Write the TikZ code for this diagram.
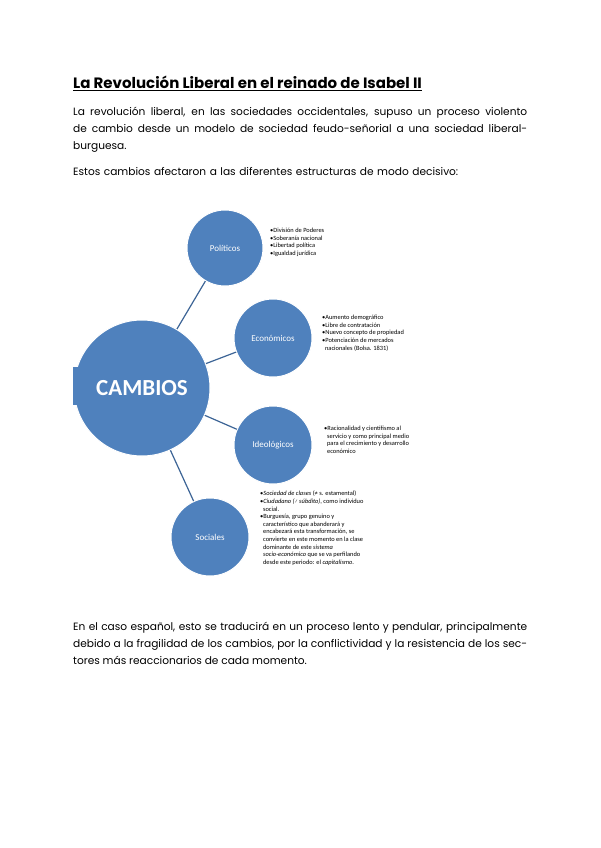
\documentclass[tikz,border=0pt]{standalone}
\usepackage{fontspec}
\setmainfont{Poppins}
\newfontfamily\carfont{Carlito}
\begin{document}
\begin{tikzpicture}[x=1pt,y=-1pt,
  bub/.style={circle,fill=blue1,draw=white,line width=1pt,inner sep=0pt,text=white,font=\carfont\fontsize{9}{10}\selectfont},
  lnk/.style={draw=linkc,line width=1.2pt},
  lst/.style={anchor=north west,align=left,font=\carfont\fontsize{6.4}{7.6}\selectfont,inner sep=0pt},
  body/.style={anchor=north west,inner sep=0pt,text width=454pt,font=\fontsize{10.6}{17}\selectfont}]
\definecolor{blue1}{RGB}{79,129,189}
\definecolor{linkc}{RGB}{60,100,150}
\useasboundingbox (0,0) rectangle (600,848);
\fill[white] (0,0) rectangle (600,848);
\node[anchor=south west,inner sep=0pt,font=\bfseries\fontsize{15}{18}\selectfont] (title) at (73,91) {\underline{La Revolución Liberal en el reinado de Isabel II}};
\node[body,align=justify] (p1) at (73,107) {La revolución liberal, en las sociedades occidentales, supuso un proceso violento de cambio desde un modelo de sociedad feudo-señorial a una sociedad liberal-burguesa.};
\node[body] (p2) at (73,167) {Estos cambios afectaron a las diferentes estructuras de modo decisivo:};
% nodes
\coordinate (cc) at (142,388);
\node[bub,minimum size=76pt] (pol) at (225,248) {Políticos};
\node[bub,minimum size=78pt] (eco) at (273,338) {Económicos};
\node[bub,minimum size=78pt] (ide) at (273,445) {Ideológicos};
\node[bub,minimum size=78pt] (soc) at (210,537) {Sociales};
\begin{scope}
\clip (73,0) rectangle (600,848);
\node[bub,minimum size=136pt,font=\carfont\bfseries\fontsize{23}{26}\selectfont] (cam) at (cc) {CAMBIOS};
\end{scope}
\fill[blue1] (73,367) rectangle (80,405);
\draw[lnk] (cam) -- (pol);
\draw[lnk] (cam) -- (eco);
\draw[lnk] (cam) -- (ide);
\draw[lnk] (cam) -- (soc);
\node[lst] (lp) at (270,228) {•División de Poderes\\•Soberanía nacional\\•Libertad política\\•Igualdad jurídica};
\node[lst] (le) at (322,315) {•Aumento demográfico\\•Libre de contratación\\•Nuevo concepto de propiedad\\•Potenciación de mercados\\\ \ nacionales (Bolsa. 1831)};
\node[lst] (li) at (324,426) {•Racionalidad y cientifismo al\\\ \ servicio y como principal medio\\\ \ para el crecimiento y desarrollo\\\ \ económico};
\node[lst] (ls) at (260,491) {•\textit{Sociedad de clases} (≠ s. estamental)\\•\textit{Ciudadano (≠ súbdito)}, como individuo\\\ \ social.\\•Burguesía, grupo genuino y\\\ \ característico que abanderará y\\\ \ encabezará esta transformación, se\\\ \ convierte en este momento en la clase\\\ \ dominante de este \textit{sistema}\\\ \ \textit{socio-económico} que se va perfilando\\\ \ desde este periodo: el \textit{capitalismo}.};
\node[body,align=justify] (p3) at (73,622) {En el caso español, esto se traducirá en un proceso lento y pendular, principalmente debido a la fragilidad de los cambios, por la conflictividad y la resistencia de los sectores más reaccionarios de cada momento.};
\end{tikzpicture}
\end{document}
